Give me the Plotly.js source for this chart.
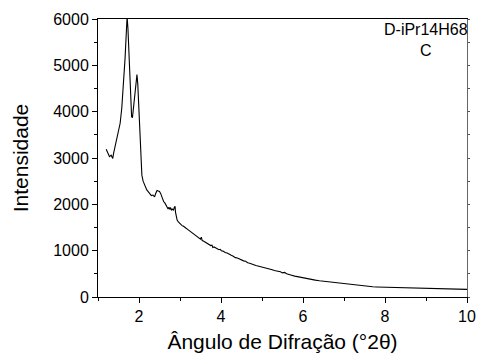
<!DOCTYPE html>
<html>
<head>
<meta charset="utf-8">
<script src="https://cdn.plot.ly/plotly-3.0.1.min.js"></script>
<style>html,body{margin:0;padding:0;background:#fff;}#chart{width:480px;height:360px;}</style>
</head>
<body>
<div id="chart"></div>
<script>
const angle = [1.20,1.24,1.28,1.32,1.36,1.38,1.42,1.46,1.50,1.54,1.58,1.62,1.66,1.69,1.71,1.73,1.76,1.79,1.82,1.84,1.87,1.90,1.93,1.95,1.97,1.99,2.01,2.03,2.05,2.07,2.10,2.13,2.16,2.19,2.22,2.26,2.30,2.34,2.38,2.41,2.44,2.47,2.50,2.53,2.56,2.58,
  2.60,2.63,2.66,2.69,2.71,2.73,2.75,2.77,2.79,2.81,2.84,2.86,2.88,2.89,2.91,2.93,2.96,2.99,3.02,3.05,3.08,3.11,3.14,3.17,3.20,3.23,3.26,3.29,3.32,3.35,3.38,3.41,3.44,3.47,3.50,3.52,3.54,3.57,3.60,3.63,3.66,3.69,3.72,3.75,3.78,3.80,3.83,3.86,3.89,3.92,3.95,3.98,4.01,
  4.05,4.10,4.15,4.20,4.25,4.30,4.35,4.40,4.45,4.50,4.55,4.60,4.65,4.70,4.75,4.80,4.85,4.90,4.95,5.00,5.05,5.10,5.15,5.20,5.25,5.30,5.35,5.40,5.45,5.50,5.55,5.60,5.65,5.70,
  5.80,5.90,6.00,6.10,6.20,6.30,6.40,6.50,6.60,6.70,6.80,6.90,7.00,7.10,7.20,7.30,7.40,7.50,7.60,7.70,7.80,7.90,8.00,8.10,8.20,8.30,8.40,8.50,8.60,8.70,8.80,8.90,9.00,9.10,9.20,9.30,9.40,9.50,9.60,9.70,9.80,9.90,10.00];
const intensity = [3190,3120,3030,3060,2990,3100,3280,3390,3560,3750,4080,4560,5150,5700,6050,5800,5100,4450,3890,3870,4150,4420,4700,4800,4600,4250,3950,3450,2950,2630,2500,2420,2390,2310,2280,2230,2190,2200,2160,2240,2300,2290,2280,2230,2150,2100,
  2060,2030,1980,1950,1900,1940,1890,1930,1880,1900,1870,1930,1960,1830,1720,1660,1620,1590,1570,1540,1530,1500,1490,1470,1450,1440,1410,1390,1370,1360,1320,1300,1290,1260,1250,1290,1220,1210,1190,1170,1160,1140,1130,1110,1120,1070,1080,1060,1050,1040,1020,1030,1000,
  990,960,950,920,900,880,850,840,820,790,780,770,740,730,710,700,680,670,660,650,640,620,610,600,590,570,565,550,545,520,530,500,480,475,
  450,430,410,395,375,365,350,340,330,318,306,296,282,268,258,248,237,230,222,220,216,214,210,208,203,197,193,190,188,187,185,182,180,178,176,174,172,169,167,166,166,165,165];

const trace = {
  x: angle, y: intensity, type: 'scatter', mode: 'lines',
  line: {color: '#000', width: 1.1}, showlegend: false
};
const ghost = {
  x: angle, y: intensity, type: 'scatter', mode: 'lines', yaxis: 'y2',
  line: {color: 'rgba(0,0,0,0)', width: 0}, showlegend: false, hoverinfo: 'skip'
};
const F = 'Liberation Sans, Arial, sans-serif';
const layout = {
  width: 480, height: 360,
  margin: {l: 98, r: 13, t: 19, b: 63},
  paper_bgcolor: '#fff', plot_bgcolor: '#fff',
  font: {family: F, size: 16, color: '#000'},
  xaxis: {
    range: [1, 10], tickmode: 'linear', tick0: 0, dtick: 2,
    ticks: 'outside', ticklen: 5, tickwidth: 1, tickcolor: '#000',
    minor: {dtick: 1, ticks: 'outside', ticklen: 3, tickcolor: '#000'},
    showline: true, linecolor: '#000', linewidth: 1, mirror: true,
    showgrid: false, zeroline: false,
    tickfont: {family: F, size: 16, color: '#000'},
    title: {text: 'Ângulo de Difração (°2θ)', font: {family: F, size: 21, color: '#000'}, standoff: 10}
  },
  yaxis: {
    range: [0, 6000], tickmode: 'linear', tick0: 0, dtick: 1000,
    ticks: 'outside', ticklen: 5, tickwidth: 1, tickcolor: '#000',
    minor: {dtick: 500, ticks: 'outside', ticklen: 3, tickcolor: '#000'},
    showline: true, linecolor: '#000', linewidth: 1, mirror: false,
    showgrid: false, zeroline: false,
    tickfont: {family: F, size: 16, color: '#000'},
    title: {text: 'Intensidade', font: {family: F, size: 21, color: '#000'}, standoff: 18}
  },
  yaxis2: {
    overlaying: 'y', side: 'right', range: [0, 6000], tickmode: 'linear', tick0: 0, dtick: 500,
    ticks: 'outside', ticklen: 2, tickcolor: '#555', showticklabels: false,
    showline: true, linecolor: '#666', linewidth: 1, showgrid: false, zeroline: false
  },
  annotations: [{
    xref: 'paper', yref: 'paper', x: 0.888, y: 1.0, xanchor: 'center', yanchor: 'top',
    text: 'D-iPr14H68<br>C', showarrow: false, align: 'center',
    font: {family: F, size: 16, color: '#000'}
  }]
};
Plotly.newPlot('chart', [trace, ghost], layout, {staticPlot: true, displayModeBar: false});
</script>
</body>
</html>
